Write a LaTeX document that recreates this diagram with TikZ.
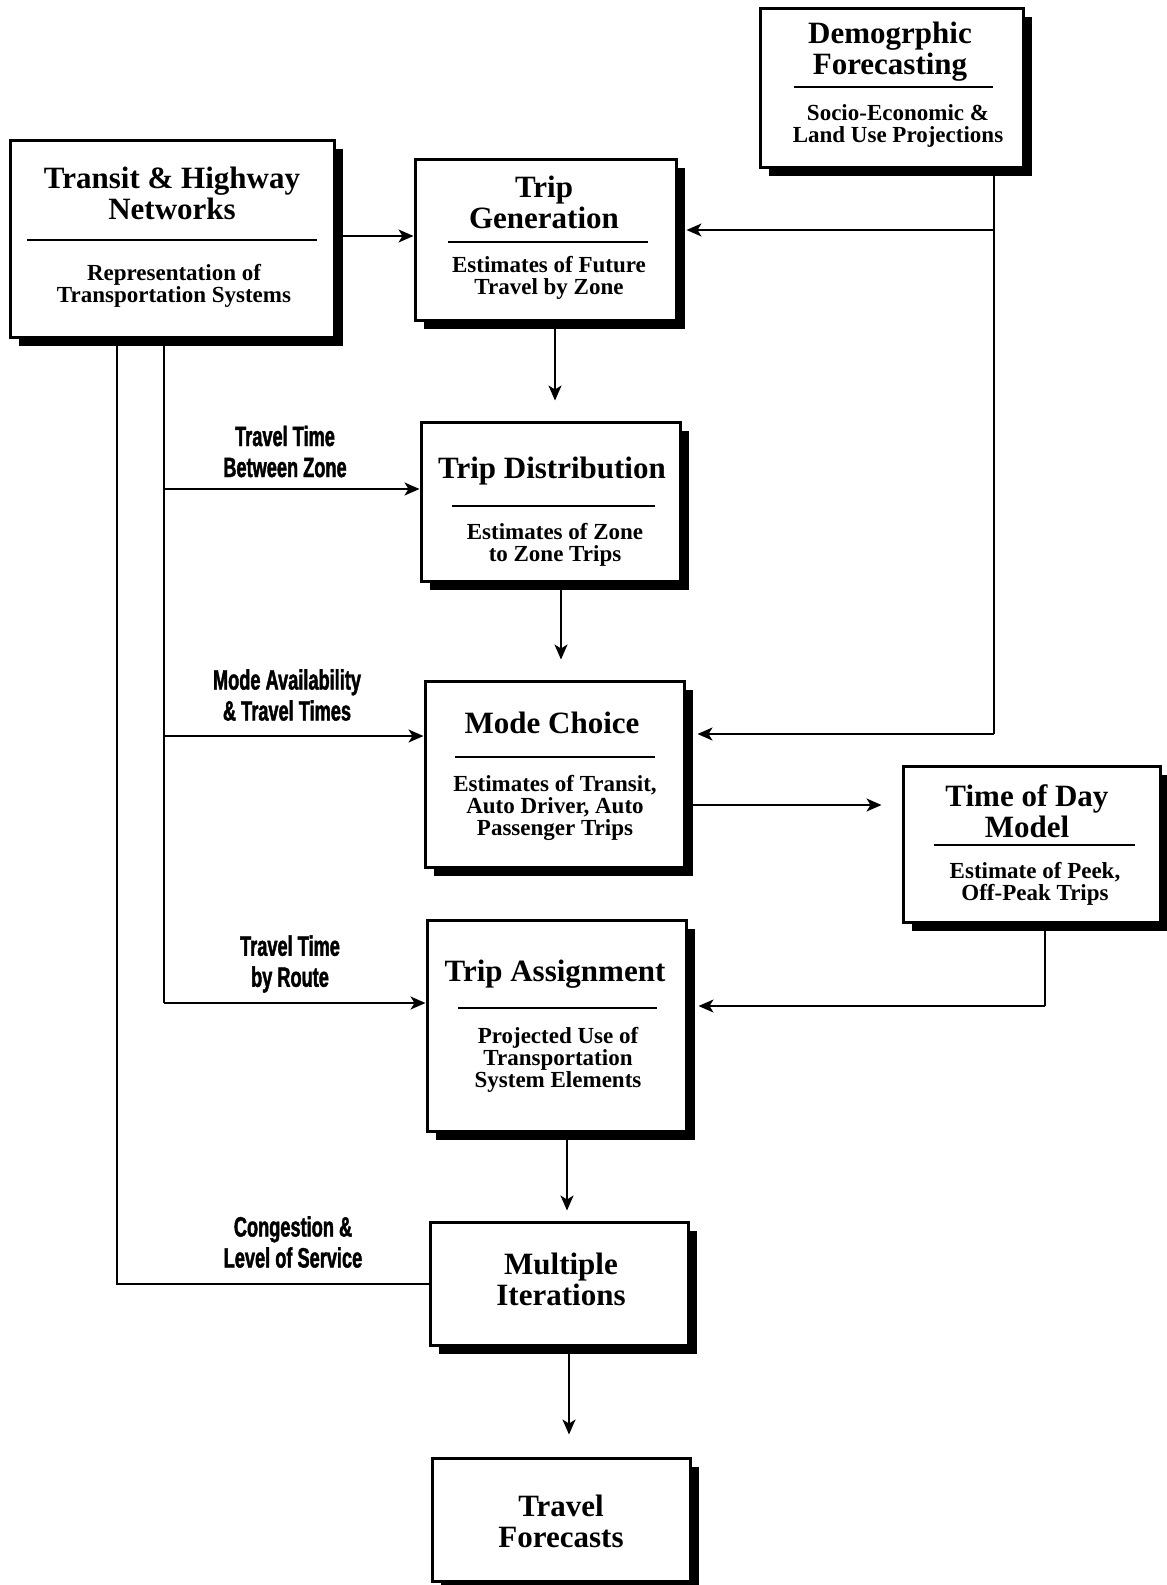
\documentclass[tikz,border=0pt]{standalone}
\usepackage{fontspec}
\setmainfont{Liberation Serif}
\usepackage{tikz}
\usetikzlibrary{positioning,arrows.meta,shadows,calc}
\newfontfamily\edgefont[FakeStretch=0.65, BoldFeatures={FakeBold=1.5}]{Liberation Sans}

\begin{document}
\begin{tikzpicture}[x=0.5pt,y=-0.5pt]
	\tikzset{box/.style = {draw, line width=1.5pt, fill=white, inner sep=0pt,
		drop shadow={shadow xshift=4.5pt, shadow yshift=-4.5pt, opacity=1, fill=black}}}
	\tikzset{head/.style = {align=center, font=\fontsize{15.5}{15.5}\selectfont\bfseries}}
	\tikzset{sub/.style = {align=center, font=\fontsize{11.5}{11.1}\selectfont\bfseries}}
	\tikzset{edge/.style = {align=center, font=\fontsize{14}{15.5}\selectfont\edgefont\bfseries}}
	\tikzset{func/.style = {-{Stealth[length=7.5pt, width=6.5pt, inset=2pt]}, line width=1pt}}
	\tikzset{rule/.style = {line width=1pt}}

	\useasboundingbox (0,0) rectangle (1167,1585);

	% boxes
	\node[box, minimum width=162pt, minimum height=98.5pt] (tn) at (172, 238.5){};
	\node[head] (tnh) at (172, 193){Transit \& Highway\\Networks};
	\draw[rule] (27, 240) -- (317, 240);
	\node[sub] (tns) at (174, 286){Representation of\\Transportation Systems};

	\node[box, minimum width=131.5pt, minimum height=79.5pt] (df) at (891.5, 87.5){};
	\node[head] (dfh) at (890, 52){Demogrphic\\Forecasting};
	\draw[rule] (794, 87) -- (993, 87);
	\node[sub] (dfs) at (898, 126){Socio-Economic \&\\Land Use Projections};

	\node[box, minimum width=130.5pt, minimum height=80.5pt] (tg) at (545.5, 239.5){};
	\node[head] (tgh) at (544, 202){Trip\\Generation};
	\draw[rule] (448, 242) -- (648, 242);
	\node[sub] (tgs) at (549, 278){Estimates of Future\\Travel by Zone};

	\node[box, minimum width=129.5pt, minimum height=79.5pt] (td) at (550.5, 501.5){};
	\node[head] (tdh) at (552, 471){Trip Distribution};
	\draw[rule] (452, 506) -- (655, 506);
	\node[sub] (tds) at (555, 545){Estimates of Zone\\to Zone Trips};

	\node[box, minimum width=129.5pt, minimum height=93pt] (mc) at (554.5, 774){};
	\node[head] (mch) at (552, 723){Mode Choice};
	\draw[rule] (455, 757) -- (655, 757);
	\node[sub] (mcs) at (555, 808){Estimates of Transit,\\Auto Driver, Auto\\Passenger Trips};

	\node[box, minimum width=128.5pt, minimum height=78pt] (tod) at (1031.5, 844){};
	\node[head] (todh) at (1027, 811){Time of Day\\Model};
	\draw[rule] (934, 845) -- (1135, 845);
	\node[sub] (tods) at (1035, 883.5){Estimate of Peek,\\Off-Peak Trips};

	\node[box, minimum width=129.5pt, minimum height=105.5pt] (ta) at (556.5, 1025.5){};
	\node[head] (tah) at (555, 974){Trip Assignment};
	\draw[rule] (458, 1008) -- (657, 1008);
	\node[sub] (tas) at (558, 1060){Projected Use of\\Transportation\\System Elements};

	\node[box, minimum width=129pt, minimum height=61.5pt] (mi) at (559, 1283.5){};
	\node[head] (mih) at (561, 1279.5){Multiple\\Iterations};

	\node[box, minimum width=129pt, minimum height=61.5pt] (tf) at (561, 1519.5){};
	\node[head] (tfh) at (561, 1521){Travel\\Forecasts};

	% down the chain
	\coordinate (a1) at (555, 0);
	\coordinate (a2) at (561, 0);
	\coordinate (a3) at (567, 0);
	\coordinate (a4) at (569, 0);
	\draw[func, shorten >=10pt] (tg.south -| a1) -- (td.north -| a1);
	\draw[func, shorten >=10pt] (td.south -| a2) -- (mc.north -| a2);
	\draw[func, shorten >=5pt] (ta.south -| a3) -- (mi.north -| a3);
	\draw[func, shorten >=11pt] (mi.south -| a4) -- (tf.north -| a4);

	% from networks
	\coordinate (n0) at (172, 236);
	\draw[func] (n0 -| tn.east) -- (n0 -| tg.west);

	\coordinate (t1) at (164, 489);
	\coordinate (t2) at (164, 736);
	\coordinate (t3) at (164, 1003);
	\draw[line width=1pt] (tn.south -| t3) -- (t3);
	\draw[func] (t1) -- (t1 -| td.west);
	\draw[func] (t2) -- (t2 -| mc.west);
	\draw[func] (t3) -- (t3 -| ta.west);

	\coordinate (c1) at (117, 1284);
	\draw[line width=1pt] (tn.south -| c1) -- (c1) -- (c1 -| mi.west);

	% from forecasting
	\coordinate (d1) at (994, 230);
	\coordinate (d2) at (994, 734);
	\draw[line width=1pt] (df.south -| d1) -- (d2);
	\draw[func] (d1) -- ($(d1 -| tg.east)+(9, 0)$);
	\draw[func] (d2) -- ($(d2 -| mc.east)+(12, 0)$);

	% time of day
	\coordinate (m1) at (690, 805);
	\draw[func, shorten >=10pt] (m1) -- (m1 -| tod.west);
	\coordinate (o1) at (1045, 1006);
	\draw[line width=1pt] (tod.south -| o1) -- (o1);
	\draw[func] (o1) -- ($(o1 -| ta.east)+(11, 0)$);

	% edge labels
	\node[edge] (l1) at (285, 451.5){Travel Time\\Between Zone};
	\node[edge] (l2) at (287, 695){Mode Availability\\\& Travel Times};
	\node[edge] (l3) at (290, 964){Travel Time\\by Route};
	\node[edge] (l4) at (293, 1242){Congestion \&\\Level of Service};
\end{tikzpicture}
\end{document}
